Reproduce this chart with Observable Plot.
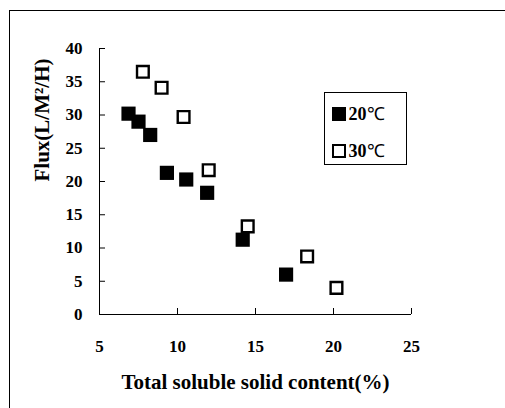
<!DOCTYPE html>
<html>
<head>
<meta charset="utf-8">
<script src="https://cdn.jsdelivr.net/npm/d3@7"></script>
<script src="https://cdn.jsdelivr.net/npm/@observablehq/plot@0.6"></script>
<style>
  body { margin: 0; background: #fff; }
  #wrap { position: relative; width: 505px; height: 408px; overflow: hidden; }
  #border { position: absolute; left: 9px; top: 10px; width: 510px; height: 420px; border: 1px solid #000; box-sizing: border-box; }
  #legend { position: absolute; left: 324px; top: 92px; width: 83px; height: 73px; border: 1px solid #000; box-sizing: border-box; background: #fff;
    font-family: "Liberation Serif", serif; font-weight: bold; font-size: 18px; line-height: 18px; }
  .item { position: absolute; left: 7px; display: flex; align-items: center; }
  .sw { width: 13.5px; height: 13.5px; box-sizing: border-box; margin-right: 3px; }
  .c { font-weight: normal; }
</style>
</head>
<body>
<div id="wrap">
  <div id="border"></div>
  <div id="chart"></div>
  <div id="legend"></div>
</div>
<script>
// Data
const x20 = [6.86, 7.5, 8.25, 9.32, 10.56, 11.9, 14.18, 16.96];
const y20 = [30.2, 29.0, 27.0, 21.3, 20.3, 18.3, 11.25, 6.0];
const x30 = [7.78, 8.98, 10.39, 12.0, 14.5, 18.31, 20.19];
const y30 = [36.5, 34.1, 29.7, 21.7, 13.25, 8.73, 4.0];
const xTicks = [5, 10, 15, 20, 25];
const yTicks = [0, 5, 10, 15, 20, 25, 30, 35, 40];
const seriesNames = ["20", "30"];
const xTitle = "Total soluble solid content(%)";
const yTitle = "Flux(L/M²/H)";

const d20 = x20.map((x, i) => ({x, y: y20[i]}));
const d30 = x30.map((x, i) => ({x, y: y30[i]}));

const font = {fontFamily: "Liberation Serif", fontWeight: "bold", fontSize: 17};
const titleFont = {fontFamily: "Liberation Serif", fontWeight: "bold", fontSize: 21};

const chart = Plot.plot({
  width: 505,
  height: 408,
  marginLeft: 99,
  marginRight: 94,
  marginTop: 48,
  marginBottom: 94,
  x: {domain: [5, 25]},
  y: {domain: [0, 40]},
  style: {fontFamily: "Liberation Serif", fontWeight: "bold", fontSize: "17px", background: "transparent", color: "#000"},
  marks: [
    Plot.ruleX([5], {stroke: "#000"}),
    Plot.ruleY([0], {stroke: "#000"}),
    Plot.axisX({ticks: xTicks, tickSize: -6, label: null, tickFormat: () => ""}),
    Plot.axisY({ticks: yTicks, tickSize: -6, label: null, tickFormat: () => ""}),
    Plot.text(xTicks, {x: d => d, text: d => String(d), frameAnchor: "bottom", dy: 32, lineAnchor: "middle", ...font}),
    Plot.text(yTicks, {y: d => d, text: d => String(d), frameAnchor: "left", dx: -17, textAnchor: "end", lineAnchor: "middle", ...font}),
    Plot.dot(d20, {x: "x", y: "y", symbol: "square", r: 8, fill: "#000"}),
    Plot.dot(d30, {x: "x", y: "y", symbol: "square", r: 6.6, fill: "#fff", stroke: "#000", strokeWidth: 2.4}),
    Plot.text([xTitle], {frameAnchor: "bottom", dy: 68, text: d => d, lineAnchor: "middle", ...titleFont}),
    Plot.text([yTitle], {frameAnchor: "left", dx: -57, rotate: -90, text: d => d, lineAnchor: "middle", ...titleFont})
  ]
});
document.getElementById("chart").appendChild(chart);

const legend = document.getElementById("legend");
seriesNames.forEach((n, i) => {
  const item = document.createElement("div");
  item.className = "item";
  item.style.top = (i === 0 ? 12 : 49) + "px";
  const sw = document.createElement("div");
  sw.className = "sw";
  if (i === 0) sw.style.background = "#000";
  else { sw.style.background = "#fff"; sw.style.border = "2.4px solid #000"; }
  item.appendChild(sw);
  const t = document.createElement("span");
  t.innerHTML = n + '<span class="c">℃</span>';
  item.appendChild(t);
  legend.appendChild(item);
});
</script>
</body>
</html>
